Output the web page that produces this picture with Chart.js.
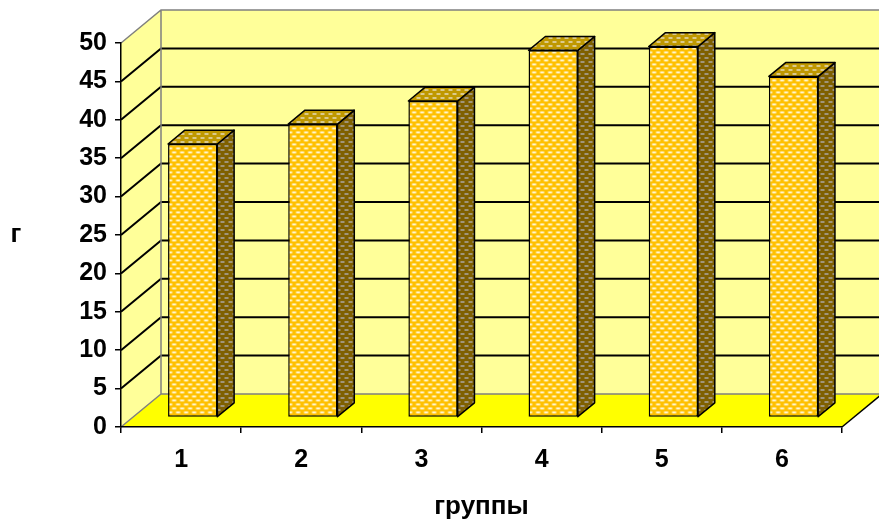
<!DOCTYPE html>
<html><head><meta charset="utf-8">
<script src="https://cdn.jsdelivr.net/npm/chart.js@4.4.0/dist/chart.umd.min.js"></script>
<style>html,body{margin:0;padding:0;background:#fff;overflow:hidden}canvas{display:block}</style>
</head><body>
<canvas id="c" width="879" height="526"></canvas>
<script>
const categories = ['1', '2', '3', '4', '5', '6'];
const values = [35.6, 38.2, 41.2, 47.8, 48.3, 44.4];
const yTicks = [0, 5, 10, 15, 20, 25, 30, 35, 40, 45, 50];
const yAxisTitle = 'г';
const xAxisTitle = 'группы';

const DX = 40, DY = -33;           // depth of the 3D box
const BAR_FRONT = 0.29, BAR_BACK = 0.71;
const FONT = 'Liberation Sans, Arial, sans-serif';

function makePattern(base, dash, halo) {
  const c = document.createElement('canvas');
  c.width = 8; c.height = 8;
  const g = c.getContext('2d');
  g.fillStyle = base; g.fillRect(0, 0, 8, 8);
  g.fillStyle = halo;
  g.fillRect(0, 1, 5, 2); g.fillRect(4, 5, 5, 2); g.fillRect(-4, 5, 5, 2);
  g.fillStyle = dash;
  g.fillRect(1, 1, 3, 2); g.fillRect(5, 5, 3, 2);
  return g.createPattern(c, 'repeat');
}
const frontPat = makePattern('#FFC000', '#FFF6D0', '#FFDD70');
const sidePat = makePattern('#7F6000', '#A0957A', '#8E7A40');
const topPat = makePattern('#BF9800', '#DCCB8C', '#CDB048');

const threeD = {
  id: 'threeD',
  beforeDraw(chart) {
    const { ctx, scales: { x, y } } = chart;
    const L = x.left, R = x.right;
    const B = y.getPixelForValue(y.min), T = y.getPixelForValue(y.max);
    ctx.save();
    ctx.beginPath();
    ctx.moveTo(L, B); ctx.lineTo(L, T); ctx.lineTo(L + DX, T + DY); ctx.lineTo(L + DX, B + DY); ctx.closePath();
    ctx.fillStyle = '#FFFF99'; ctx.fill();
    ctx.beginPath();
    ctx.moveTo(L + DX, T + DY); ctx.lineTo(R + DX, T + DY); ctx.lineTo(R + DX, B + DY); ctx.lineTo(L + DX, B + DY); ctx.closePath();
    ctx.fill();
    ctx.beginPath();
    ctx.moveTo(L, B); ctx.lineTo(R, B); ctx.lineTo(R + DX, B + DY); ctx.lineTo(L + DX, B + DY); ctx.closePath();
    ctx.fillStyle = '#FFFF00'; ctx.fill();
    ctx.strokeStyle = '#000'; ctx.lineWidth = 2;
    yTicks.forEach(v => {
      if (v <= y.min || v >= y.max) return;
      const py = y.getPixelForValue(v);
      ctx.beginPath();
      ctx.moveTo(L, py); ctx.lineTo(L + DX, py + DY); ctx.lineTo(R + DX, py + DY);
      ctx.stroke();
    });
    ctx.strokeStyle = '#808080'; ctx.lineWidth = 1.5;
    ctx.beginPath();
    ctx.moveTo(L, T); ctx.lineTo(L + DX, T + DY); ctx.lineTo(R + DX, T + DY);
    ctx.moveTo(L + DX, T + DY); ctx.lineTo(L + DX, B + DY); ctx.lineTo(R + DX, B + DY);
    ctx.moveTo(L, B); ctx.lineTo(L + DX, B + DY);
    ctx.stroke();
    ctx.strokeStyle = '#000'; ctx.lineWidth = 1.5;
    ctx.beginPath(); ctx.moveTo(R, B); ctx.lineTo(R + DX, B + DY); ctx.stroke();
    ctx.restore();
  },
  beforeDatasetsDraw(chart) {
    chart.ctx.save();
    chart.ctx.translate(DX * BAR_FRONT, DY * BAR_FRONT);
  },
  afterDatasetsDraw(chart) {
    const ctx = chart.ctx;
    ctx.restore();
    const fx = DX * BAR_FRONT, fy = DY * BAR_FRONT;
    const ddx = DX * (BAR_BACK - BAR_FRONT), ddy = DY * (BAR_BACK - BAR_FRONT);
    ctx.save();
    ctx.strokeStyle = '#000'; ctx.lineWidth = 1.5; ctx.lineJoin = 'round';
    chart.getDatasetMeta(0).data.forEach(el => {
      const p = el.getProps(['x', 'y', 'base', 'width'], true);
      const l = p.x - p.width / 2 + fx, r = p.x + p.width / 2 + fx;
      const t = p.y + fy, b = p.base + fy;
      ctx.beginPath();
      ctx.moveTo(r, t); ctx.lineTo(r + ddx, t + ddy); ctx.lineTo(r + ddx, b + ddy); ctx.lineTo(r, b); ctx.closePath();
      ctx.fillStyle = sidePat; ctx.fill(); ctx.stroke();
      ctx.beginPath();
      ctx.moveTo(l, t); ctx.lineTo(l + ddx, t + ddy); ctx.lineTo(r + ddx, t + ddy); ctx.lineTo(r, t); ctx.closePath();
      ctx.fillStyle = topPat; ctx.fill(); ctx.stroke();
    });
    ctx.restore();
  },
  afterDraw(chart) {
    const ctx = chart.ctx;
    const { y } = chart.scales;
    ctx.save();
    ctx.font = 'bold 26px ' + FONT;
    ctx.fillStyle = '#000'; ctx.textAlign = 'center'; ctx.textBaseline = 'middle';
    ctx.fillText(yAxisTitle, 16, (y.top + y.bottom) / 2);
    ctx.restore();
  }
};

new Chart(document.getElementById('c'), {
  type: 'bar',
  data: {
    labels: categories,
    datasets: [{
      data: values,
      backgroundColor: frontPat,
      borderColor: '#000',
      borderWidth: 1.5,
      borderSkipped: false,
      barPercentage: 0.41,
      categoryPercentage: 1
    }]
  },
  options: {
    responsive: false,
    animation: false,
    devicePixelRatio: 1,
    layout: { padding: { top: 43, right: 37, left: 0, bottom: 0 } },
    plugins: { legend: { display: false }, tooltip: { enabled: false } },
    scales: {
      x: {
        grid: { display: true, drawOnChartArea: false, drawTicks: true, tickLength: 6, color: '#000', lineWidth: 1.5, offset: true },
        border: { display: true, color: '#000', width: 1.5 },
        ticks: { color: '#000', font: { family: FONT, size: 25, weight: 'bold' }, padding: 12, maxRotation: 0 },
        title: { display: true, text: xAxisTitle, color: '#000', font: { family: FONT, size: 26, weight: 'bold' }, padding: { top: 0, bottom: 4 } },
        afterFit(scale) { scale.height = 99; }
      },
      y: {
        min: 0, max: 50,
        afterBuildTicks(scale) { scale.ticks = yTicks.map(v => ({ value: v })); },
        grid: { display: true, drawOnChartArea: false, drawTicks: true, tickLength: 6, color: '#000', lineWidth: 1.5 },
        border: { display: true, color: '#000', width: 1.5 },
        ticks: { color: '#000', font: { family: FONT, size: 25, weight: 'bold' }, padding: 8 },
        afterFit(scale) { scale.width = 121; }
      }
    }
  },
  plugins: [threeD]
});
</script>
</body></html>
